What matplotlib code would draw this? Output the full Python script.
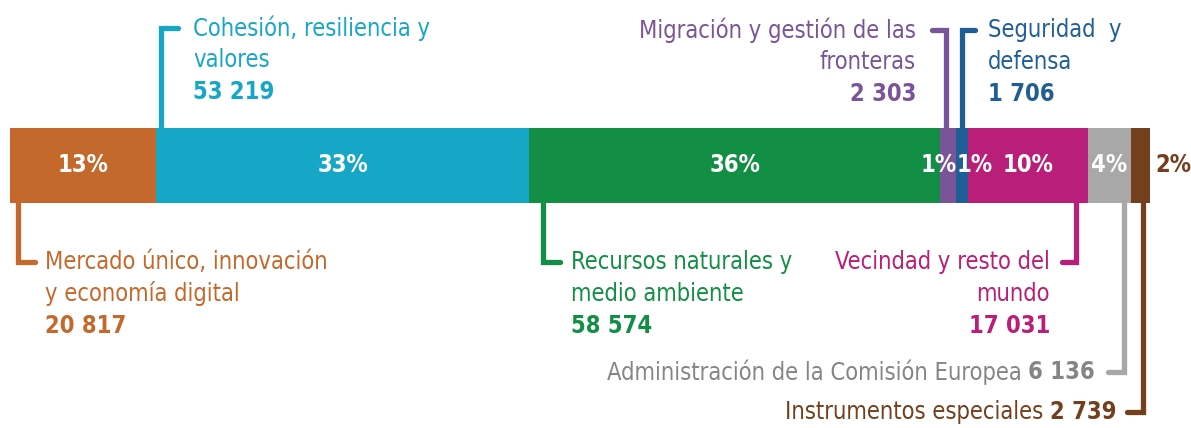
import matplotlib.pyplot as plt
import numpy as np

# --- Data ---
names = [
    "Mercado único, innovación\ny economía digital",
    "Cohesión, resiliencia y\nvalores",
    "Recursos naturales y\nmedio ambiente",
    "Migración y gestión de las\nfronteras",
    "Seguridad  y\ndefensa",
    "Vecindad y resto del\nmundo",
    "Administración de la Comisión Europea",
    "Instrumentos especiales",
]
values = [20817, 53219, 58574, 2303, 1706, 17031, 6136, 2739]
colors = ["#C4682B", "#17A7C6", "#128F45", "#7A5499",
          "#205E96", "#B91E78", "#A8A8A8", "#733F1C"]
text_colors = ["#C4682B", "#17A7C6", "#128F45", "#7A5499",
               "#205E96", "#B91E78", "#858585", "#733F1C"]

# --- Layout (pixels) ---
W, H = 1191, 428
bar_left, bar_right = 10, 1150
bar_top, bar_bot = 128, 203
# leader: (line x in px, elbow y, elbow end x, text x, text align, side)
leaders = [
    (18, 262, 35, 45, "left", "bottom"),
    (161, 28, 178, 193, "left", "top"),
    (543, 262, 560, 571, "left", "bottom"),
    (946, 30, 932, 916, "right", "top"),
    (962, 30, 975, 988, "left", "top"),
    (1076, 262, 1062, 1050, "right", "bottom"),
    (1124, 372, 1108, 1095, "right", "inline"),
    (1143, 412, 1127, 1117, "right", "inline"),
]

plt.rcParams["font.family"] = ["DejaVu Sans"]
plt.rcParams["font.stretch"] = "condensed"

total = sum(values)
s = total / (bar_right - bar_left)


def px(p):
    # pixel x -> data x
    return (p - bar_left) * s


fig = plt.figure(figsize=(W / 100, H / 100), dpi=100)
ax = fig.add_axes([0, 0, 1, 1])
ax.set_xlim(px(0), px(W))
ax.set_ylim(H, 0)
ax.axis("off")

starts = np.concatenate([[0], np.cumsum(values)[:-1]])
ax.barh((bar_top + bar_bot) / 2, values, left=starts, height=bar_bot - bar_top,
        color=colors, zorder=2)

fs = 17
lh = 32
for i, (name, v, c, tc) in enumerate(zip(names, values, colors, text_colors)):
    lx, ey, ex, tx, ha, side = leaders[i]
    y0 = bar_bot if side != "top" else bar_top
    ax.plot([px(lx), px(lx), px(ex)], [y0, ey, ey], color=c, lw=3.8,
            solid_joinstyle="miter", solid_capstyle="round", zorder=1)
    num = f"{v:,}".replace(",", " ")
    if side == "inline":
        t = ax.text(px(tx), ey, num, color=tc, fontsize=fs, fontweight="bold",
                    ha="right", va="center")
        ax.annotate(name + " ", xycoords=t, xy=(0, 0.5), ha="right", va="center",
                    color=tc, fontsize=fs)
    else:
        lines = name.split("\n")
        for k, line in enumerate(lines):
            ax.text(px(tx), ey + k * lh, line, color=tc, fontsize=fs,
                    ha=ha, va="center")
        ax.text(px(tx), ey + len(lines) * lh, num, color=tc, fontsize=fs,
                fontweight="bold", ha=ha, va="center")

    # percentage labels
    pct = f"{round(100 * v / total)}%"
    mid = starts[i] + v / 2
    ycen = (bar_top + bar_bot) / 2
    if i == 3:
        ax.text(starts[i] + v, ycen, pct, color="white", fontsize=fs,
                fontweight="bold", ha="right", va="center", zorder=3)
    elif i == 4:
        ax.text(starts[i], ycen, pct, color="white", fontsize=fs,
                fontweight="bold", ha="left", va="center", zorder=3)
    elif i == len(values) - 1:
        ax.text(starts[i] + v + 5 * s, ycen, pct, color=c, fontsize=fs,
                fontweight="bold", ha="left", va="center", zorder=3)
    else:
        ax.text(mid, ycen, pct, color="white", fontsize=fs,
                fontweight="bold", ha="center", va="center", zorder=3)

plt.savefig("out.png", dpi=100)
